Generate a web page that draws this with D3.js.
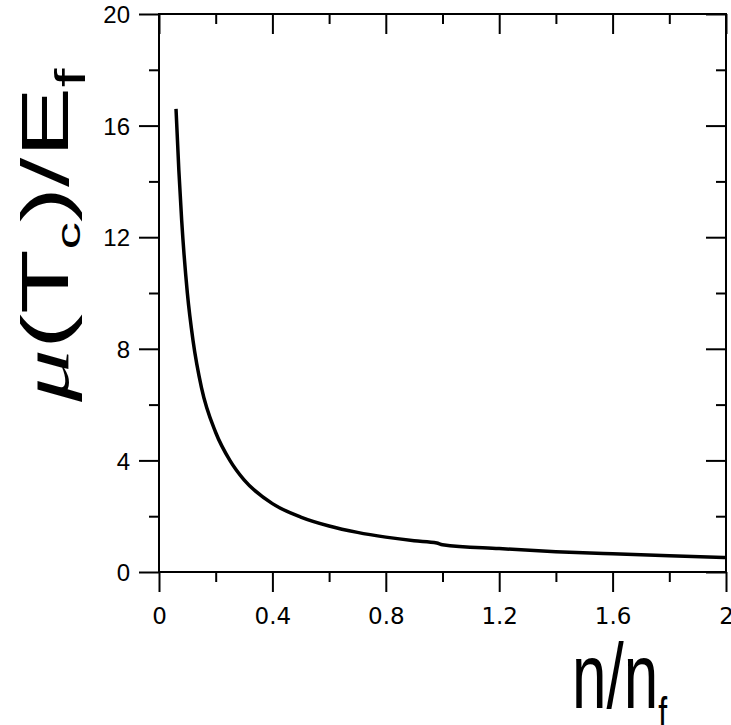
<!DOCTYPE html>
<html>
<head>
<meta charset="utf-8">
<script src="https://cdn.jsdelivr.net/npm/d3@7"></script>
<style>
  html, body { margin: 0; padding: 0; background: #fff; overflow: hidden; }
  svg { display: block; }
</style>
</head>
<body>
<script>
// curve
const density = [0.06, 0.07, 0.08, 0.10, 0.12, 0.15, 0.20, 0.25, 0.30, 0.40, 0.50, 0.60, 0.70, 0.80, 0.90, 0.98, 1.00, 1.20, 1.40, 1.60, 1.80, 2.00];
const chemPot = [16.6, 14.4, 12.6, 10.0, 8.3, 6.6, 5.0, 4.0, 3.3, 2.45, 1.97, 1.65, 1.42, 1.25, 1.12, 1.04, 0.98, 0.84, 0.73, 0.65, 0.58, 0.52];

const xMajor = [0, 0.4, 0.8, 1.2, 1.6, 2];
const xMinor = [0.2, 0.6, 1.0, 1.4, 1.8];
const yMajor = [0, 4, 8, 12, 16, 20];
const yMinor = [2, 6, 10, 14, 18];

const W = 731, H = 725;
const mLeft = 159, mRight = 726, mTop = 14, mBottom = 572;

const svg = d3.select("body").append("svg")
    .attr("width", W)
    .attr("height", H);

const x = d3.scaleLinear().domain([0, 2]).range([mLeft, mRight]);
const y = d3.scaleLinear().domain([0, 20]).range([mBottom, mTop]);

// ticks: left/bottom point out, top/right point in
function ticks(g) {
    g.selectAll(".domain").remove();
    g.selectAll(".tick line").attr("stroke", "#000").attr("stroke-width", 2);
}

// major ticks with labels
svg.append("g")
    .attr("transform", `translate(0,${mBottom})`)
    .call(d3.axisBottom(x).tickValues(xMajor).tickSize(20).tickSizeOuter(0)
        .tickFormat(d => d3.format("")(d)))
    .call(ticks)
    .call(g => g.selectAll(".tick text")
        .attr("y", 52).attr("dy", 0)
        .style("font-family", "'DejaVu Sans', sans-serif")
        .style("font-size", "23px")
        .attr("fill", "#000"));

svg.append("g")
    .attr("transform", `translate(0,${mBottom})`)
    .call(d3.axisBottom(x).tickValues(xMinor).tickSize(10).tickFormat(""))
    .call(ticks);

svg.append("g")
    .attr("transform", `translate(${mLeft},0)`)
    .call(d3.axisLeft(y).tickValues(yMajor).tickSize(20).tickSizeOuter(0))
    .call(ticks)
    .call(g => g.selectAll(".tick text")
        .attr("x", -29).attr("dy", "0.36em")
        .style("font-family", "'Liberation Sans', Arial, sans-serif")
        .style("font-size", "24px")
        .attr("fill", "#000"));

svg.append("g")
    .attr("transform", `translate(${mLeft},0)`)
    .call(d3.axisLeft(y).tickValues(yMinor).tickSize(10).tickFormat(""))
    .call(ticks);

// mirrored axes, ticks inward
svg.append("g")
    .attr("transform", `translate(0,${mTop})`)
    .call(d3.axisTop(x).tickValues(xMajor).tickSize(-20).tickFormat(""))
    .call(ticks);
svg.append("g")
    .attr("transform", `translate(0,${mTop})`)
    .call(d3.axisTop(x).tickValues(xMinor).tickSize(-10).tickFormat(""))
    .call(ticks);
svg.append("g")
    .attr("transform", `translate(${mRight},0)`)
    .call(d3.axisRight(y).tickValues(yMajor).tickSize(-20).tickFormat(""))
    .call(ticks);
svg.append("g")
    .attr("transform", `translate(${mRight},0)`)
    .call(d3.axisRight(y).tickValues(yMinor).tickSize(-10).tickFormat(""))
    .call(ticks);

// frame
svg.append("rect")
    .attr("x", mLeft).attr("y", mTop)
    .attr("width", mRight - mLeft).attr("height", mBottom - mTop)
    .attr("fill", "none")
    .attr("stroke", "#000")
    .attr("stroke-width", 2);

// the curve
const pts = density.map((d, i) => [d, chemPot[i]]);
svg.append("path")
    .datum(pts)
    .attr("fill", "none")
    .attr("stroke", "#000")
    .attr("stroke-width", 3.5)
    .attr("d", d3.line()
        .x(d => x(d[0]))
        .y(d => y(d[1]))
        .curve(d3.curveMonotoneX));

// x title, stretched tall like the original
const xt = svg.append("text")
    .attr("transform", "translate(572,708) scale(1,1.5)")
    .style("font-family", "'Liberation Sans', Arial, sans-serif")
    .style("font-size", "62px")
    .attr("fill", "#000");
xt.append("tspan").text("n/n");
xt.append("tspan").attr("dy", 15).style("font-size", "32px").text("f");

// y title, rotated and stretched along the reading direction
const yt = svg.append("text")
    .attr("transform", "translate(68,402) rotate(-90) scale(1.6,1)")
    .style("font-family", "'Liberation Sans', Arial, sans-serif")
    .style("font-size", "66px")
    .attr("fill", "#000");
yt.append("tspan")
    .style("font-family", "'Liberation Serif', serif")
    .style("font-style", "italic")
    .text("μ");
yt.append("tspan").text("(T");
yt.append("tspan").attr("dy", 12).style("font-size", "34px").text("c");
yt.append("tspan").attr("dy", -12).text(")/E");
yt.append("tspan").attr("dy", 17).style("font-size", "42px").text("f");
</script>
</body>
</html>
